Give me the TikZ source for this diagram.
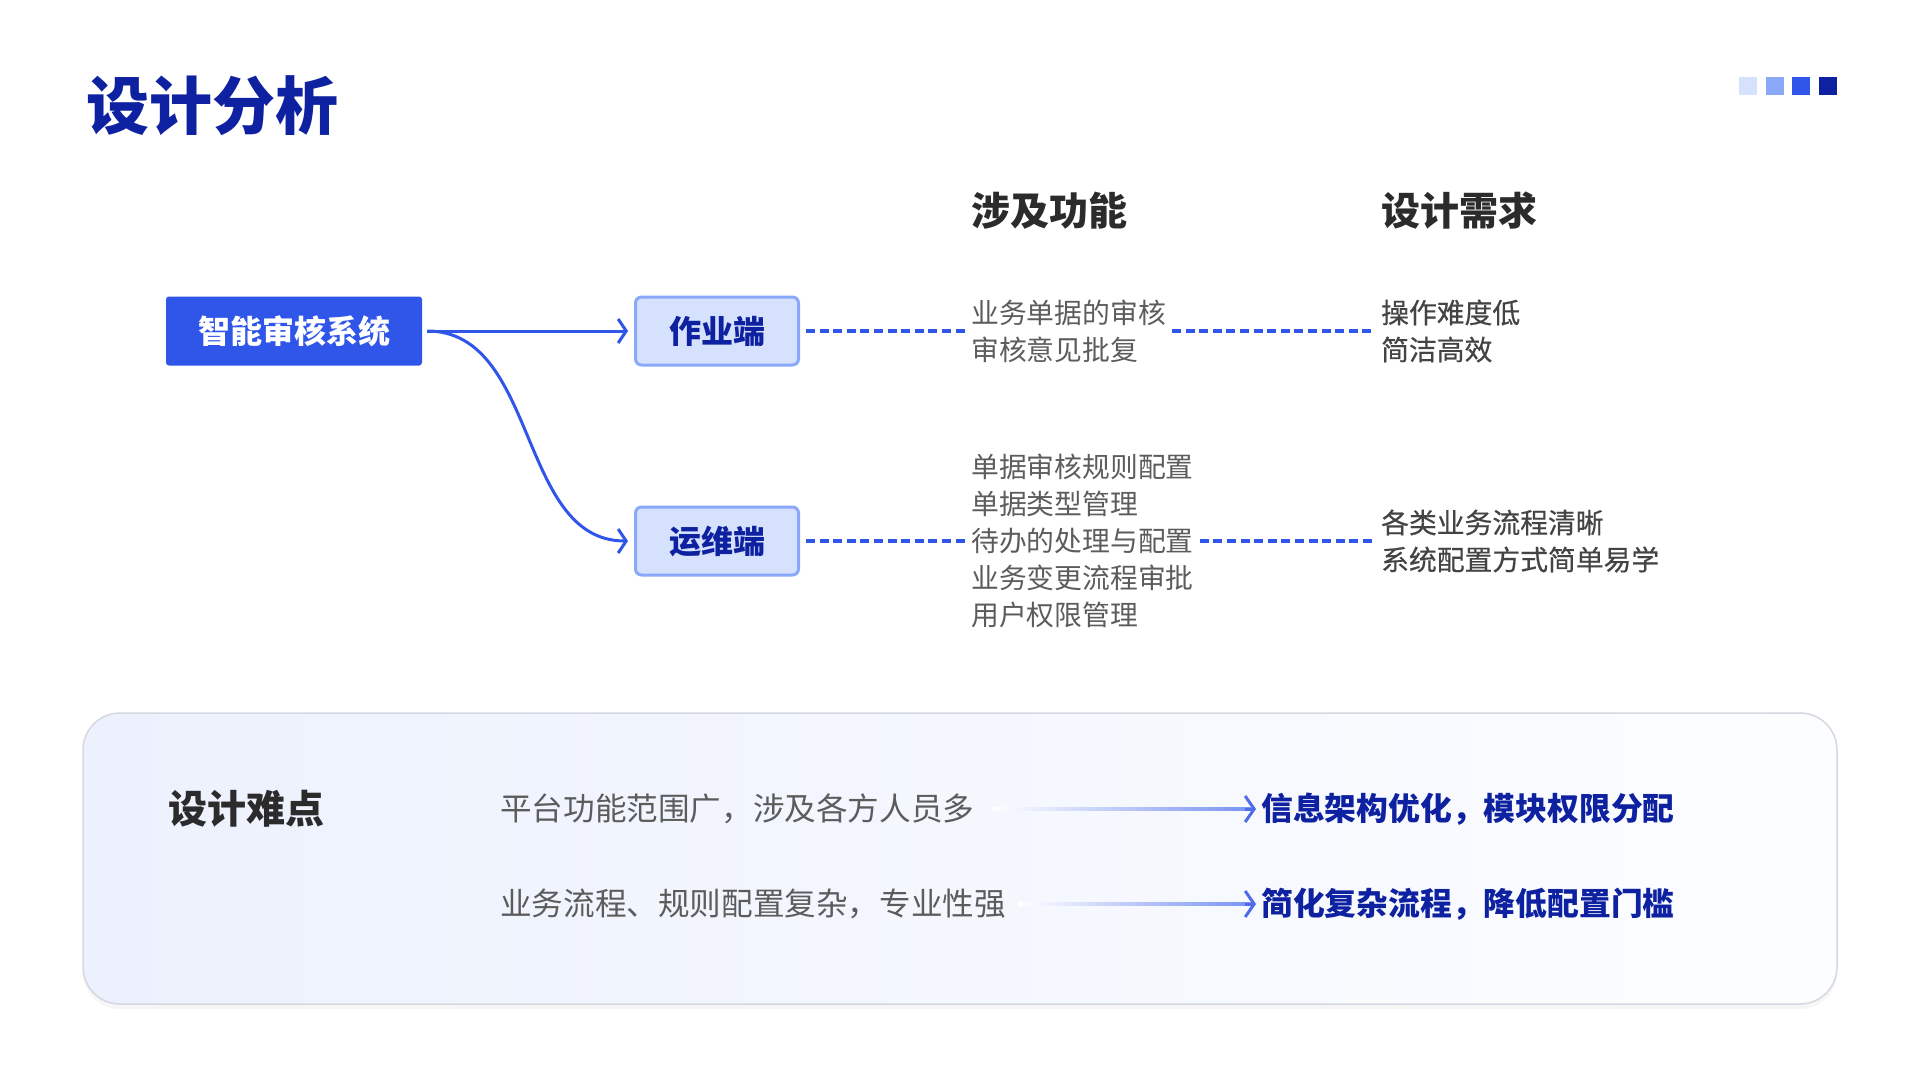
\documentclass[tikz,border=0pt]{standalone}
\usepackage{fontspec}
\setmainfont{Noto Sans CJK SC}
\newfontfamily\midcjk{Noto Sans CJK SC}[FakeBold=0.5]
\usetikzlibrary{arrows.meta,shadows,calc}
\definecolor{deepblue}{HTML}{0E21A0}
\definecolor{mainblue}{HTML}{2F55E9}
\definecolor{paleblue}{HTML}{D6E2FD}
\definecolor{softblue}{HTML}{8AA8FA}
\definecolor{inkgrey}{HTML}{2B2B2B}
\definecolor{textgrey}{HTML}{5C5C5C}
\definecolor{needgrey}{HTML}{444444}
\definecolor{panelleft}{HTML}{ECF1FD}
\definecolor{panelright}{HTML}{FCFDFF}
\definecolor{panelline}{HTML}{D5D8E0}
\definecolor{fadeblue}{HTML}{7892F2}
\definecolor{tipblue}{HTML}{4E6BEA}
\begin{document}
\begin{tikzpicture}[x=1pt, y=-1pt,
		head/.style = {anchor=west, inner sep=0, text=inkgrey, font=\fontsize{39}{45}\selectfont\bfseries},
		sysbox/.style = {fill=mainblue, text=white, rounded corners=3pt, minimum width=256pt, minimum height=69pt, font=\fontsize{32}{36}\selectfont\bfseries},
		endbox/.style = {fill=paleblue, draw=softblue, line width=3pt, rounded corners=6pt, text=deepblue, minimum width=163pt, minimum height=68pt, font=\fontsize{32}{36}\selectfont\bfseries},
		func/.style = {anchor=west, align=left, inner sep=0, text=textgrey, font=\fontsize{27.8}{37}\selectfont},
		need/.style = {anchor=west, align=left, inner sep=0, text=needgrey, font=\fontsize{27.8}{37}\selectfont\midcjk},
		hard/.style = {anchor=west, inner sep=0, text=textgrey, font=\fontsize{31.6}{36}\selectfont},
		fix/.style = {anchor=west, inner sep=0, text=deepblue, font=\fontsize{31.8}{36}\selectfont\bfseries},
		link/.style = {mainblue, line width=3pt, shorten <=5pt, shorten >=6pt, -{Straight Barb[length=8pt,width=24pt]}},
		dashlink/.style = {mainblue, line width=3.5pt, dash pattern=on 9pt off 4.6pt, shorten <=6pt, shorten >=6pt},
		tip/.style = {tipblue, line width=3pt, -{Straight Barb[length=9pt,width=26pt]}}]
		\useasboundingbox (0,0) rectangle (1920,1080);
		\fill[white] (0,0) rectangle (1920,1080);
		
		% title
		\node[anchor=west, inner sep=0, text=deepblue, font=\fontsize{63}{70}\selectfont\bfseries] (title) at (86,106) {设计分析};
		\foreach \c [count=\i] in {paleblue, softblue, mainblue, deepblue}
			\fill[\c] ({1739+26.7*(\i-1)}, 77) rectangle +(18,18);
		
		% columns
		\node[head] (hf) at (971,211) {涉及功能};
		\node[head] (hn) at (1381,211) {设计需求};
		
		% tree
		\node[sysbox] (sys) at (294,331) {智能审核系统};
		\node[endbox] (zy) at (717,331) {作业端};
		\node[endbox] (yw) at (717,541) {运维端};
		\draw[link] (sys.east) -- (zy.west);
		\draw[link] (sys.east) to[out=0, in=180] (yw.west);
		
		% work end
		\node[func] (fz) at (971,331) {业务单据的审核\\审核意见批复};
		\node[need] (nz) at (1381,331) {操作难度低\\简洁高效};
		\draw[dashlink] (zy.east) -- (fz.west);
		\draw[dashlink] (fz.east) -- (nz.west);
		
		% ops end
		\node[func] (fy) at (971,541) {单据审核规则配置\\单据类型管理\\待办的处理与配置\\业务变更流程审批\\用户权限管理};
		\node[need] (ny) at (1381,541) {各类业务流程清晰\\系统配置方式简单易学};
		\draw[dashlink] (yw.east) -- (fy.west);
		\draw[dashlink] (fy.east) -- (ny.west);
		
		% panel
		\path[rounded corners=37pt, left color=panelleft, right color=panelright, draw=panelline, line width=1.5pt,
			drop shadow={opacity=0.07, shadow xshift=0pt, shadow yshift=-5pt}] (83,713) rectangle (1837,1004);
		\node[head] (hd) at (168,809) {设计难点};
		\node[hard] (p1) at (500,809) {平台功能范围广，涉及各方人员多};
		\node[hard] (p2) at (500,904) {业务流程、规则配置复杂，专业性强};
		\node[fix] (r1) at (1261,809) {信息架构优化，模块权限分配};
		\node[fix] (r2) at (1261,904) {简化复杂流程，降低配置门槛};
		\shade[left color=white, right color=fadeblue] ($(p1.east)+(18,-1.6)$) rectangle ($(r1.west)+(-10,1.6)$);
		\draw[tip] ($(r1.west)+(-16,0)$) -- ($(r1.west)+(-5,0)$);
		\shade[left color=white, right color=fadeblue] ($(p2.east)+(12,-1.6)$) rectangle ($(r2.west)+(-10,1.6)$);
		\draw[tip] ($(r2.west)+(-16,0)$) -- ($(r2.west)+(-5,0)$);
	\end{tikzpicture}
\end{document}
